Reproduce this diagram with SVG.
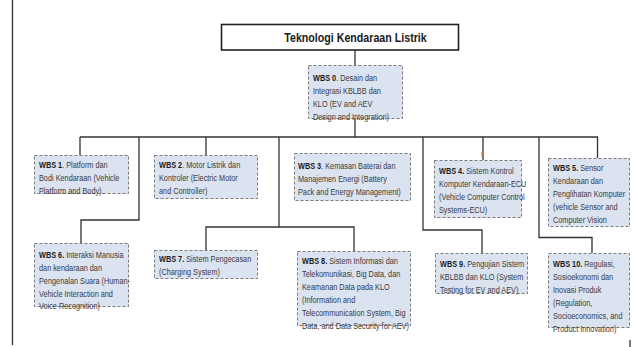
<svg xmlns="http://www.w3.org/2000/svg" width="633" height="347" viewBox="0 0 633 347">
<style>
.bg{fill:#ffffff}
.box{fill:#dbe3f1;stroke:#7a7a7a;stroke-width:1;stroke-dasharray:3 2}
.title{fill:#ffffff;stroke:#222;stroke-width:1.6}
.c{fill:none;stroke:#333;stroke-width:1.3}
text{font-family:"Liberation Sans",Arial,sans-serif;font-size:9.5px;fill:#3a3a3a}
.b{font-weight:bold;fill:#1a1a1a}
.tt{font-size:13px;font-weight:bold;fill:#1a1a1a}
</style>
<rect class="bg" x="0" y="0" width="633" height="347"/>
<g id="connectors">
<path class="c" d="M12.5 0 V345"/>
<path class="c" d="M630 340 V347"/>
<path class="c" d="M355 50 V137"/>
<path class="c" d="M80 137 H598"/>
<path class="c" d="M80 137 V155"/>
<path class="c" d="M139 137 V220 H81 V243"/>
<path class="c" d="M206 137 V155"/>
<path class="c" d="M279 137 V227"/>
<path class="c" d="M206 250 V227 H354 V251"/>
<path class="c" d="M423 137 V230 H482 V253"/>
<path class="c" d="M483 137 V160"/>
<path class="c" d="M539 137 V237.5 H592 V253"/>
<path class="c" d="M597.5 137 V158"/>
<path d="M482 152 V157" stroke="#e07a30" stroke-width="1"/>
</g>
<g id="title">
<rect class="title" x="221.5" y="24.5" width="237" height="25.5"/>
<text class="tt" transform="translate(355.5,42) scale(0.82,1)" text-anchor="middle">Teknologi Kendaraan Listrik</text>
</g>
<g id="wbs0">
<rect class="box" x="308.5" y="65.5" width="94" height="53"/>
<text transform="translate(313,81) scale(0.77,1)"><tspan class="b">WBS 0</tspan>. Desain dan<tspan x="0" dy="13">Integrasi KBLBB dan</tspan><tspan x="0" dy="13">KLO (EV and AEV</tspan><tspan x="0" dy="13">Design and Integration)</tspan></text>
</g>
<g id="wbs1">
<rect class="box" x="34.5" y="155.5" width="94" height="38"/>
<text transform="translate(39,168) scale(0.77,1)"><tspan class="b">WBS 1</tspan>. Platform dan<tspan x="0" dy="13">Bodi Kendaraan (Vehicle</tspan><tspan x="0" dy="13">Platform and Body).</tspan></text>
</g>
<g id="wbs2">
<rect class="box" x="154.5" y="155.5" width="103" height="43"/>
<text transform="translate(159,168) scale(0.77,1)"><tspan class="b">WBS 2</tspan>. Motor Listrik dan<tspan x="0" dy="13">Kontroler (Electric Motor</tspan><tspan x="0" dy="13">and Controller)</tspan></text>
</g>
<g id="wbs3">
<rect class="box" x="294.5" y="153.5" width="116" height="47"/>
<text transform="translate(298,169) scale(0.77,1)"><tspan class="b">WBS 3</tspan>. Kemasan Baterai dan<tspan x="0" dy="13">Manajemen Energi (Battery</tspan><tspan x="0" dy="13">Pack and Energy Management)</tspan></text>
</g>
<g id="wbs4">
<rect class="box" x="434.5" y="160.5" width="87" height="57"/>
<text transform="translate(439,174) scale(0.77,1)"><tspan class="b">WBS 4.</tspan> Sistem Kontrol<tspan x="0" dy="13">Komputer Kendaraan-ECU</tspan><tspan x="0" dy="13">(Vehicle Computer Control</tspan><tspan x="0" dy="13">Systems-ECU)</tspan></text>
</g>
<g id="wbs5">
<rect class="box" x="548.5" y="158.5" width="81" height="68"/>
<text transform="translate(553,171) scale(0.77,1)"><tspan class="b">WBS 5.</tspan> Sensor<tspan x="0" dy="13">Kendaraan dan</tspan><tspan x="0" dy="13">Penglihatan Komputer</tspan><tspan x="0" dy="13">(vehicle Sensor and</tspan><tspan x="0" dy="13">Computer Vision</tspan></text>
</g>
<g id="wbs6">
<rect class="box" x="34.5" y="243.5" width="94" height="63"/>
<text transform="translate(39,258) scale(0.77,1)"><tspan class="b">WBS 6.</tspan> Interaksi Manusia<tspan x="0" dy="13">dan kendaraan dan</tspan><tspan x="0" dy="13">Pengenalan Suara (Human-</tspan><tspan x="0" dy="13">Vehicle Interaction and</tspan><tspan x="0" dy="12">Voice Recognition)</tspan></text>
</g>
<g id="wbs7">
<rect class="box" x="154.5" y="250.5" width="103" height="28"/>
<text transform="translate(159,262) scale(0.77,1)"><tspan class="b">WBS 7.</tspan> Sistem Pengecasan<tspan x="0" dy="13">(Charging System)</tspan></text>
</g>
<g id="wbs8">
<rect class="box" x="297.5" y="251.5" width="113" height="74"/>
<text transform="translate(302,264) scale(0.77,1)"><tspan class="b">WBS 8.</tspan> Sistem Informasi dan<tspan x="0" dy="13">Telekomunikasi, Big Data, dan</tspan><tspan x="0" dy="13">Keamanan Data pada KLO</tspan><tspan x="0" dy="13">(Information and</tspan><tspan x="0" dy="13">Telecommunication System, Big</tspan><tspan x="0" dy="13">Data, and Data Security for AEV)</tspan></text>
</g>
<g id="wbs9">
<rect class="box" x="435.5" y="253.5" width="92" height="40"/>
<text transform="translate(440,267) scale(0.77,1)"><tspan class="b">WBS 9.</tspan> Pengujian Sistem<tspan x="0" dy="13">KBLBB dan KLO (System</tspan><tspan x="0" dy="13">Testing for EV and AEV)</tspan></text>
</g>
<g id="wbs10">
<rect class="box" x="548.5" y="253.5" width="81" height="74"/>
<text transform="translate(553,267) scale(0.77,1)"><tspan class="b">WBS 10.</tspan> Regulasi,<tspan x="0" dy="13">Sosioekonomi dan</tspan><tspan x="0" dy="13">Inovasi Produk</tspan><tspan x="0" dy="13">(Regulation,</tspan><tspan x="0" dy="13">Socioeconomics, and</tspan><tspan x="0" dy="13">Product Innovation)</tspan></text>
</g>
</svg>
